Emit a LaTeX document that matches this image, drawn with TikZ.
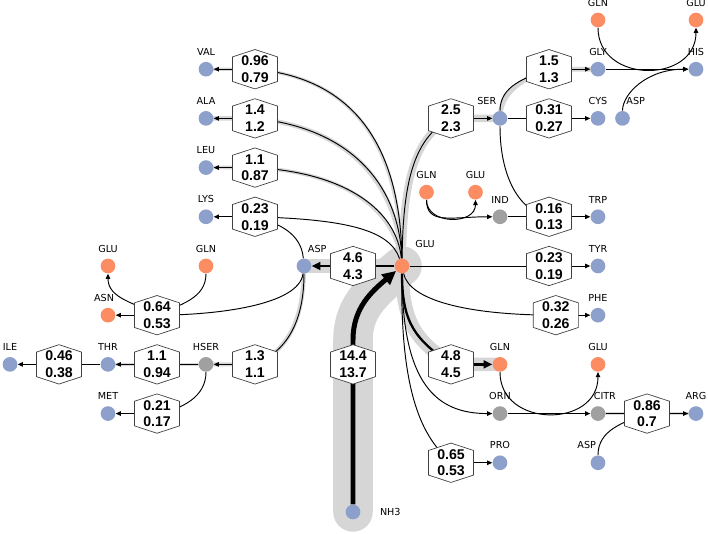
\documentclass[tikz,border=0pt]{standalone}
\usepackage{fontspec}
\usetikzlibrary{arrows.meta,calc}
\newfontfamily\lblfont{DejaVu Sans}
\newfontfamily\numfont{Liberation Sans}
\definecolor{aablue}{HTML}{8DA0CB}
\definecolor{nitro}{HTML}{FC8D62}
\definecolor{midgray}{HTML}{A0A0A0}
\definecolor{bandgray}{HTML}{D6D6D6}
\pgfdeclarelayer{halo}
\pgfdeclarelayer{edge}
\pgfsetlayers{halo,edge,main}

\tikzset{
  met/.style={circle, minimum size=0.3cm, inner sep=0pt},
  amino/.style={met, fill=aablue},
  donor/.style={met, fill=nitro},
  inter/.style={met, fill=midgray},
  lbl/.style={font=\lblfont\fontsize{5.6}{6.5}\selectfont},
  hexa/.style={draw=black!75, fill=white, line width=0.4pt},
  fluxtext/.style={font=\numfont\bfseries\fontsize{8.2}{9.7}\selectfont, align=center, inner sep=0pt},
  flow/.style={line width=0.55pt},
  flowto/.style={flow, -{Triangle[length=3pt,width=2.6pt]}},
  big/.style={line width=1.35pt},
  bigto/.style={big, -{Triangle[length=5pt,width=4.5pt]}},
  nhflow/.style={line width=2.9pt, -{Triangle[length=8pt,width=7.5pt]}},
  band/.style={draw=bandgray, line width=0.055cm*#1+0.015cm},
}

% hexagon with the two flux values
\newcommand{\fluxhex}[4]{%
  \filldraw[hexa, shift={#2}] (0,0.4) -- (0.46,0.25) -- (0.46,-0.25) -- (0,-0.4) -- (-0.46,-0.25) -- (-0.46,0.25) -- cycle;
  \node[fluxtext] (#1) at #2 {#3\\#4};}

\begin{document}
\begin{tikzpicture}[x=1cm,y=1.004cm]
    \useasboundingbox (-0.204,0.4065) rectangle (14.245,-10.428);

    % Metabolites, left part
    \node[amino, label={[lbl]above:VAL}] (VAL) at (4,-1) {};
    \node[amino, label={[lbl]above:ALA}] (ALA) at (4,-2) {};
    \node[amino, label={[lbl]above:LEU}] (LEU) at (4,-3) {};
    \node[amino, label={[lbl]above:LYS}] (LYS) at (4,-4) {};
    \node[donor, label={[lbl]above:GLU}] (GLUl) at (2,-5) {};
    \node[donor, label={[lbl]above:GLN}] (GLNl) at (4,-5) {};
    \node[donor, label={[lbl,xshift=-0.08cm]above:ASN}] (ASN) at (2,-6) {};
    \node[amino, label={[lbl,xshift=0.27cm]above:ASP}] (ASP) at (6,-5) {};
    \node[donor, label={[lbl,xshift=0.47cm,yshift=0.1cm]above:GLU}] (GLU) at (8,-5) {};
    \node[amino, label={[lbl]above:ILE}] (ILE) at (0,-7) {};
    \node[amino, label={[lbl]above:THR}] (THR) at (2,-7) {};
    \node[inter, label={[lbl]above:HSER}] (HSER) at (4,-7) {};
    \node[amino, label={[lbl]above:MET}] (MET) at (2,-8) {};
    \node[amino, label={[lbl,label distance=0.27cm]right:NH3}] (NH3) at (7,-10) {};
    \coordinate (nhbend) at (7,-6.5);

    % Metabolites, right part
    \node[amino, label={[lbl,xshift=-0.27cm]above:SER}] (SER) at (10,-2) {};
    \node[amino, label={[lbl]above:GLY}] (GLY) at (12,-1) {};
    \node[amino, label={[lbl]above:CYS}] (CYS) at (12,-2) {};
    \node[amino, label={[lbl,xshift=0.27cm]above:ASP}] (ASPr) at (12.5,-2) {};
    \node[donor, label={[lbl]above:GLN}] (GLNt) at (12,0) {};
    \node[donor, label={[lbl]above:GLU}] (GLUt) at (14,0) {};
    \node[amino, label={[lbl]above:HIS}] (HIS) at (14,-1) {};
    \node[donor, label={[lbl]above:GLN}] (GLNm) at (8.5,-3.5) {};
    \node[donor, label={[lbl]above:GLU}] (GLUm) at (9.5,-3.5) {};
    \node[inter, label={[lbl]above:IND}] (IND) at (10,-4) {};
    \node[amino, label={[lbl]above:TRP}] (TRP) at (12,-4) {};
    \node[amino, label={[lbl]above:TYR}] (TYR) at (12,-5) {};
    \node[amino, label={[lbl]above:PHE}] (PHE) at (12,-6) {};
    \node[donor, label={[lbl]above:GLN}] (GLNb) at (10,-7) {};
    \node[donor, label={[lbl]above:GLU}] (GLUb) at (12,-7) {};
    \node[inter, label={[lbl]above:ORN}] (ORN) at (10,-8) {};
    \node[inter, label={[lbl,xshift=0.14cm]above:CITR}] (CITR) at (12,-8) {};
    \node[amino, label={[lbl]above:ARG}] (ARG) at (14,-8) {};
    \node[amino, label={[lbl,xshift=-0.23cm]above:ASP}] (ASPb) at (12,-9) {};
    \node[amino, label={[lbl]above:PRO}] (PRO) at (10,-9) {};

    % Reactions
    \fluxhex{hVAL}{(5,-1)}{0.96}{0.79}
    \fluxhex{hALA}{(5,-2)}{1.4}{1.2}
    \fluxhex{hLEU}{(5,-3)}{1.1}{0.87}
    \fluxhex{hLYS}{(5,-4)}{0.23}{0.19}
    \fluxhex{hASP}{(7,-5)}{4.6}{4.3}
    \fluxhex{hASN}{(3,-6)}{0.64}{0.53}
    \fluxhex{hILE}{(1,-7)}{0.46}{0.38}
    \fluxhex{hTHR}{(3,-7)}{1.1}{0.94}
    \fluxhex{hHSER}{(5,-7)}{1.3}{1.1}
    \fluxhex{hMET}{(3,-8)}{0.21}{0.17}
    \fluxhex{hNH}{(7,-7)}{14.4}{13.7}
    \fluxhex{hSER}{(9,-2)}{2.5}{2.3}
    \fluxhex{hGLY}{(11,-1)}{1.5}{1.3}
    \fluxhex{hCYS}{(11,-2)}{0.31}{0.27}
    \fluxhex{hTRP}{(11,-4)}{0.16}{0.13}
    \fluxhex{hTYR}{(11,-5)}{0.23}{0.19}
    \fluxhex{hPHE}{(11.14,-6)}{0.32}{0.26}
    \fluxhex{hGLN}{(9,-7)}{4.8}{4.5}
    \fluxhex{hARG}{(13,-8)}{0.86}{0.7}
    \fluxhex{hPRO}{(9,-9)}{0.65}{0.53}

    % Flux bands
    \begin{pgfonlayer}{halo}
    \draw[band=14.4, line cap=round] (NH3.center) -- (nhbend) to[out=90,in=-140] (GLU.center);
    \draw[band=4.6] (GLU.center) -- (ASP.center);
    \draw[band=4.8] (GLU.center) .. controls +(0,-1.2) and +(-0.7,0.5) .. (hGLN.center) -- (GLNb.center);
    \draw[band=2.5] (GLU.center) .. controls +(0.02,1.6) and +(-0.8,-0.4) .. (hSER.center) -- (SER.center);
    \draw[band=1.5] (SER.center) to[out=90,in=200] (hGLY.center) -- (GLY.center);
    \draw[band=0.96] (GLU.center) .. controls +(-0.03,2.2) and +(2.2,-0.2) .. (hVAL.center) -- (VAL.center);
    \draw[band=1.4] (GLU.center) .. controls +(-0.05,1.6) and +(2.0,-0.2) .. (hALA.center) -- (ALA.center);
    \draw[band=1.1] (GLU.center) .. controls +(-0.1,1.1) and +(1.9,-0.1) .. (hLEU.center) -- (LEU.center);
    \draw[band=1.3] (ASP.center) .. controls +(0,-1.2) and +(0.6,0.25) .. (hHSER.center) -- (HSER.center);
    \draw[band=1.1] (HSER.center) -- (THR.center);
    \draw[band=0.86] (CITR.center) -- (ARG.center);
    \end{pgfonlayer}

    \begin{pgfonlayer}{edge}
    % Branches to the left of GLU
    \draw[flow] (GLU) .. controls +(-0.03,2.2) and +(2.2,-0.2) .. (hVAL.center);
    \draw[flowto] (hVAL.center) -- (VAL);
    \draw[flow] (GLU) .. controls +(-0.05,1.6) and +(2.0,-0.2) .. (hALA.center);
    \draw[flowto] (hALA.center) -- (ALA);
    \draw[flow] (GLU) .. controls +(-0.1,1.1) and +(1.9,-0.1) .. (hLEU.center);
    \draw[flowto] (hLEU.center) -- (LEU);
    \draw[flow] (GLU) .. controls +(-0.25,0.75) and +(1.8,-0.05) .. (hLYS.center);
    \draw[flow] (ASP) to[out=95,in=-15] (hLYS.center);
    \draw[flowto] (hLYS.center) -- (LYS);

    % Aspartate family
    \draw[big] (GLU) -- (hASP.center);
    \draw[bigto] (hASP.center) -- (ASP);
    \draw[flow] (ASP) .. controls +(-0.1,-0.8) and +(1.2,0) .. (hASN.center);
    \draw[flow] (GLNl) to[out=-90,in=25] (hASN.center);
    \draw[flowto] (hASN.center) to[out=150,in=-90] (GLUl);
    \draw[flowto] (hASN.center) -- (ASN);
    \draw[flow] (ASP) .. controls +(0,-1.2) and +(0.6,0.25) .. (hHSER.center);
    \draw[flowto] (hHSER.center) -- (HSER);
    \draw[flow] (HSER) -- (hTHR.center);
    \draw[flowto] (hTHR.center) -- (THR);
    \draw[flow] (THR) -- (hILE.center);
    \draw[flowto] (hILE.center) -- (ILE);
    \draw[flow] (HSER) to[out=-90,in=10] (hMET.center);
    \draw[flowto] (hMET.center) -- (MET);

    % Ammonia uptake
    \draw[nhflow] (NH3) -- (nhbend) to[out=90,in=-140] (GLU);

    % Serine family and histidine
    \draw[flow] (GLU) .. controls +(0.02,1.6) and +(-0.8,-0.4) .. (hSER.center);
    \draw[flowto] (hSER.center) -- (SER);
    \draw[flow] (SER) to[out=90,in=200] (hGLY.center);
    \draw[flowto] (hGLY.center) -- (GLY);
    \draw[flowto] (GLY) -- (HIS);
    \draw[flowto] (GLNt) .. controls +(0,-1.3) and +(0,-1.3) .. (GLUt);
    \draw[flowto] (ASPr) .. controls +(0,0.5) and +(-1,0) .. (HIS);
    \draw[flow] (SER) -- (hCYS.center);
    \draw[flowto] (hCYS.center) -- (CYS);

    % Aromatics
    \draw[flow] (SER) .. controls +(0,-1.2) and +(-0.6,0.1) .. (hTRP.center);
    \draw[flowto] (GLNm) .. controls +(0,-0.67) and +(0,-0.67) .. (GLUm);
    \draw[flowto] (GLNm) .. controls +(0,-0.67) and +(-1,0) .. (IND);
    \draw[flow] (IND) -- (hTRP.center);
    \draw[flowto] (hTRP.center) -- (TRP);
    \draw[flow] (GLU) -- (hTYR.center);
    \draw[flowto] (hTYR.center) -- (TYR);
    \draw[flow] (GLU) .. controls +(0.15,-0.7) and +(-1.8,0) .. (hPHE.center);
    \draw[flowto] (hPHE.center) -- (PHE);

    % Glutamine, arginine, proline
    \draw[big] (GLU) .. controls +(0,-1.2) and +(-0.7,0.5) .. (hGLN.center);
    \draw[bigto] (hGLN.center) -- (GLNb);
    \draw[flowto] (GLU) .. controls +(0,-2.4) and +(-1.3,0) .. (ORN);
    \draw[flowto] (ORN) -- (CITR);
    \draw[flowto] (GLNb) .. controls +(0,-1.3) and +(0,-1.3) .. (GLUb);
    \draw[flow] (CITR) -- (hARG.center);
    \draw[flow] (ASPb) to[out=90,in=200] (hARG.center);
    \draw[flowto] (hARG.center) -- (ARG);
    \draw[flow] (GLU) .. controls +(-0.05,-3) and +(-0.4,0.4) .. (hPRO.center);
    \draw[flowto] (hPRO.center) -- (PRO);
    \end{pgfonlayer}
\end{tikzpicture}
\end{document}
